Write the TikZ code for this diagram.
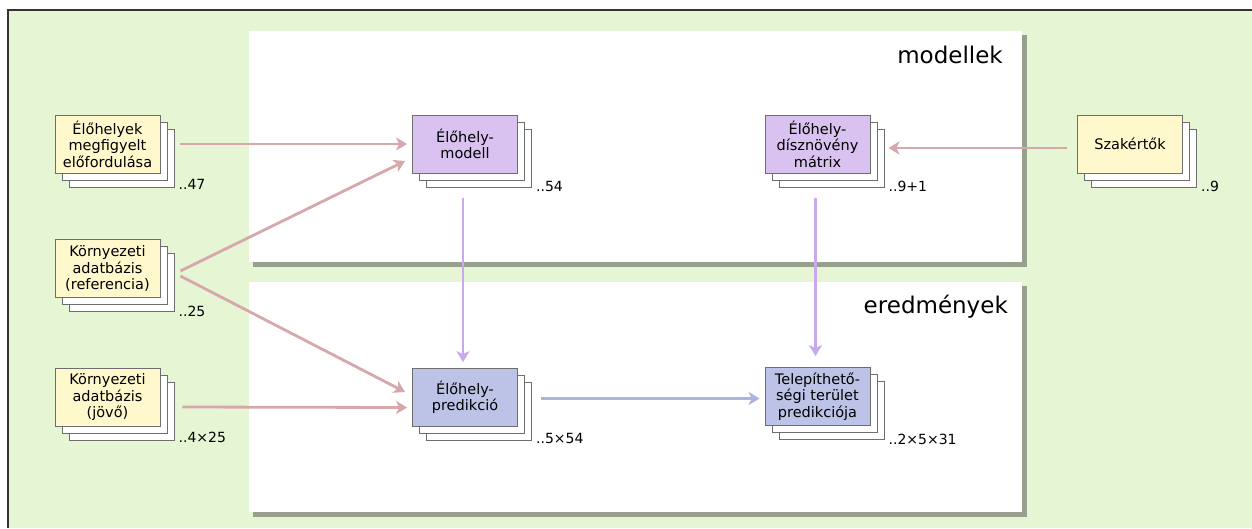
\documentclass[tikz,border=0pt]{standalone}
\usepackage{fontspec}
\setmainfont{DejaVu Sans}
\usetikzlibrary{arrows.meta,shadows}
\definecolor{bgc}{RGB}{230,245,211}
\definecolor{shadowc}{RGB}{150,160,140}
\definecolor{yellowc}{RGB}{255,248,204}
\definecolor{purplec}{RGB}{217,194,240}
\definecolor{bluec}{RGB}{188,195,230}
\definecolor{pinkarr}{RGB}{214,168,172}
\definecolor{purplearr}{RGB}{200,170,235}
\definecolor{bluearr}{RGB}{170,180,222}
\definecolor{edgec}{RGB}{110,110,110}
\begin{document}
\begin{tikzpicture}[x=1pt,y=-1pt,
  stackbox/.style={draw=edgec, line width=0.8pt, minimum width=105pt, minimum height=58pt,
    align=center, inner sep=2pt, font=\fontsize{14.5}{16.5}\selectfont,
    double copy shadow={shadow xshift=7pt, shadow yshift=-7pt, fill=white, draw=edgec, line width=0.8pt}},
  cnt/.style={anchor=west, inner sep=0pt, font=\fontsize{14}{16}\selectfont},
  title/.style={anchor=base east, inner sep=0pt, font=\fontsize{23}{28}\selectfont},
  arr/.style={line width=2.8pt, -{Stealth[length=11pt,width=13pt,inset=3pt]}}]
\useasboundingbox (0,0) rectangle (1252,528);
\fill[bgc] (8,10) rectangle (1252,528);
\draw[line width=2pt, black!80] (8,528) -- (8,10) -- (1252,10);
% panels
\fill[shadowc] (253,35) rectangle (1027,267);
\fill[white] (249,31) rectangle (1022,262);
\fill[shadowc] (253,286) rectangle (1027,517);
\fill[white] (249,282) rectangle (1022,512);
\node[title] (tm) at (1003,63) {modellek};
\node[title] (te) at (1008,313) {eredmények};
% boxes
\node[stackbox, fill=yellowc] (n1) at (107.5,144) {Élőhelyek\\megfigyelt\\előfordulása};
\node[stackbox, fill=yellowc] (n2) at (107.5,268.5) {Környezeti\\adatbázis\\(referencia)};
\node[stackbox, fill=yellowc] (n3) at (107.5,397) {Környezeti\\adatbázis\\(jövő)};
\node[stackbox, fill=purplec] (n4) at (465,144) {Élőhely-\\modell};
\node[stackbox, fill=bluec] (n5) at (465,397.5) {Élőhely-\\predikció};
\node[stackbox, fill=purplec] (n6) at (817.5,144) {Élőhely-\\dísznövény\\mátrix};
\node[stackbox, fill=bluec] (n7) at (817.5,396.5) {Telepíthető-\\ségi terület\\predikciója};
\node[stackbox, fill=yellowc] (n8) at (1130,144) {Szakértők};
% counts
\node[cnt] (c1) at ([shift={(18pt,-11pt)}]n1.south east) {..47};
\node[cnt] (c2) at ([shift={(18pt,-13pt)}]n2.south east) {..25};
\node[cnt] (c3) at ([shift={(18pt,-11pt)}]n3.south east) {..4×25};
\node[cnt] (c4) at ([shift={(18pt,-13pt)}]n4.south east) {..54};
\node[cnt] (c5) at ([shift={(18pt,-12pt)}]n5.south east) {..5×54};
\node[cnt] (c6) at ([shift={(18pt,-13pt)}]n6.south east) {..9+1};
\node[cnt] (c7) at ([shift={(18pt,-13pt)}]n7.south east) {..2×5×31};
\node[cnt] (c8) at ([shift={(18pt,-13pt)}]n8.south east) {..9};
% arrows
\draw[arr, pinkarr] ([xshift=20pt]n1.east) -- ([xshift=-5pt]n4.west);
\draw[arr, pinkarr] ([shift={(20pt,-2.5pt)}]n2.east) -- ([shift={(-7pt,-17pt)}]n4.west);
\draw[arr, pinkarr] ([shift={(20pt,-7.5pt)}]n2.east) -- ([shift={(-7pt,5.5pt)}]n5.west);
\draw[arr, pinkarr] ([shift={(22pt,-10pt)}]n3.east) -- ([shift={(-5pt,-10pt)}]n5.west);
\draw[arr, pinkarr] ([shift={(-10pt,-4pt)}]n8.west) -- ([shift={(18pt,-4pt)}]n6.east);
\draw[arr, purplearr] ([shift={(-2pt,-25pt)}]n4.south) -- ([shift={(-2pt,6pt)}]n5.north);
\draw[arr, purplearr] ([shift={(-2pt,-25pt)}]n6.south) -- ([shift={(-2pt,11pt)}]n7.north);
\draw[arr, bluearr] ([shift={(23pt,-1pt)}]n5.east) -- ([shift={(-5pt,-2pt)}]n7.west);
\end{tikzpicture}
\end{document}
